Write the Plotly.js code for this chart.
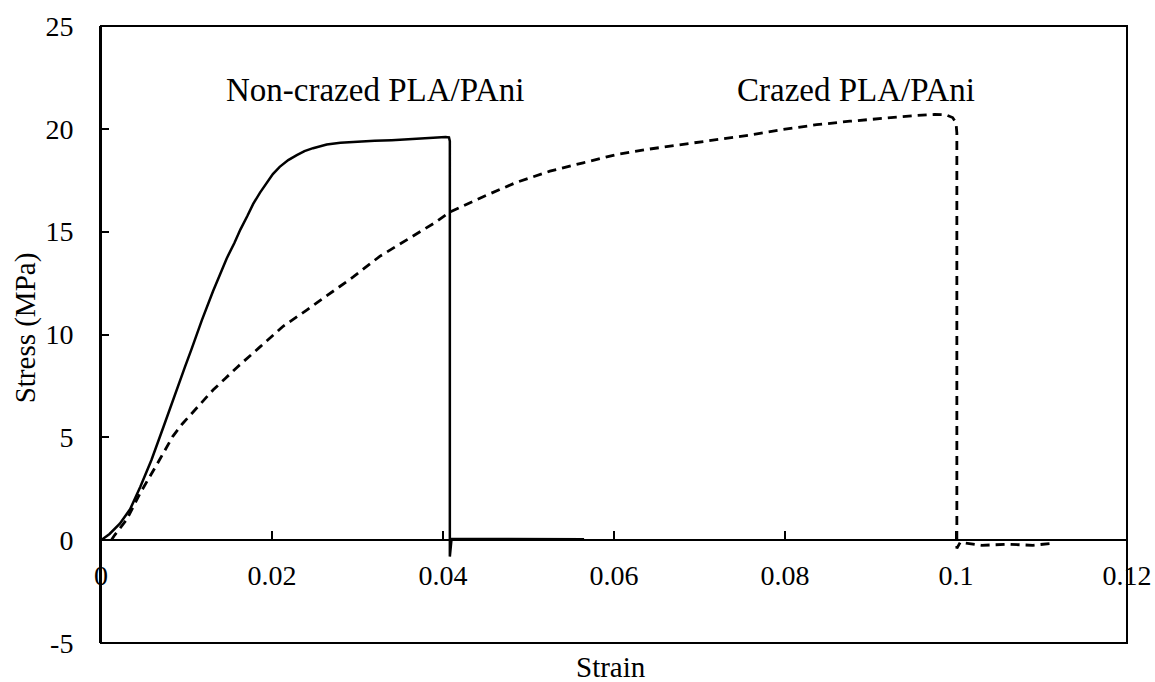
<!DOCTYPE html>
<html>
<head>
<meta charset="utf-8">
<script src="https://cdn.plot.ly/plotly-3.0.1.min.js"></script>
<style>html,body{margin:0;padding:0;background:#fff;}#chart{width:1155px;height:682px;}</style>
</head>
<body>
<div id="chart"></div>
<script>
// Non-crazed PLA/PAni (solid)
const nonCrazedStrain = [0, 0.001, 0.0022, 0.0034, 0.0046, 0.0059, 0.0073, 0.0089, 0.0098, 0.0106, 0.0118, 0.0131, 0.0139, 0.0147, 0.0156, 0.0163, 0.0171, 0.0178, 0.0186, 0.0194, 0.0201, 0.0209, 0.0219, 0.0229, 0.0238, 0.0248, 0.0256, 0.0264, 0.028, 0.030, 0.032, 0.034, 0.036, 0.038, 0.0403, 0.0407, 0.0408, 0.0408, 0.0410, 0.045, 0.050, 0.0565];
const nonCrazedStress = [0, 0.3, 0.8, 1.5, 2.6, 3.9, 5.5, 7.4, 8.4, 9.3, 10.7, 12.1, 12.95, 13.7, 14.45, 15.1, 15.75, 16.35, 16.9, 17.4, 17.8, 18.15, 18.48, 18.72, 18.92, 19.06, 19.16, 19.24, 19.32, 19.38, 19.42, 19.45, 19.5, 19.55, 19.6, 19.58, 19.4, -0.8, 0.06, 0.06, 0.05, 0.05];

// Crazed PLA/PAni (dashed)
const crazedStrain = [0.0012, 0.0016, 0.003, 0.0046, 0.0067, 0.0076, 0.0084, 0.0095, 0.0108, 0.012, 0.0131, 0.0145, 0.0159, 0.0186, 0.0213, 0.0241, 0.0268, 0.0295, 0.0326, 0.0358, 0.0389, 0.0408, 0.0447, 0.0486, 0.0525, 0.0564, 0.0603, 0.0642, 0.0681, 0.072, 0.0759, 0.0798, 0.0837, 0.0876, 0.0915, 0.0954, 0.0975, 0.0988, 0.0996, 0.1000, 0.1001, 0.1001, 0.1005, 0.103, 0.106, 0.109, 0.1113];
const crazedStress = [0, 0.25, 1.0, 2.3, 3.8, 4.5, 5.05, 5.65, 6.25, 6.8, 7.3, 7.85, 8.4, 9.4, 10.4, 11.2, 12.0, 12.8, 13.8, 14.6, 15.4, 15.95, 16.7, 17.4, 17.94, 18.35, 18.75, 19.02, 19.25, 19.45, 19.7, 19.97, 20.2, 20.37, 20.52, 20.65, 20.7, 20.68, 20.55, 20.3, 19.8, -0.4, -0.1, -0.25, -0.2, -0.25, -0.15];

const xTickVals = [0, 0.02, 0.04, 0.06, 0.08, 0.1, 0.12];
const xTickText = ["0", "0.02", "0.04", "0.06", "0.08", "0.1", "0.12"];
const yTickVals = [-5, 0, 5, 10, 15, 20, 25];
const yTickText = ["-5", "0", "5", "10", "15", "20", "25"];

const labelNonCrazed = "Non-crazed PLA/PAni";
const labelCrazed = "Crazed PLA/PAni";
const xTitle = "Strain";
const yTitle = "Stress (MPa)";

const FONT = "'Liberation Serif', 'Times New Roman', Times, serif";

const traces = [
  {x: nonCrazedStrain, y: nonCrazedStress, mode: "lines", name: labelNonCrazed,
   line: {color: "#000", width: 2.5}},
  {x: crazedStrain, y: crazedStress, mode: "lines", name: labelCrazed,
   line: {color: "#000", width: 2.8, dash: "9px,6px"}}
];

const layout = {
  width: 1155, height: 682,
  margin: {l: 101, r: 28, t: 26, b: 39},
  paper_bgcolor: "#fff", plot_bgcolor: "#fff",
  showlegend: false,
  font: {family: FONT, size: 28, color: "#000"},
  xaxis: {
    range: [0, 0.12], tickvals: xTickVals, ticktext: xTickText,
    anchor: "free", position: 5/30,
    showline: true, linecolor: "#000", linewidth: 2,
    ticks: "inside", ticklen: 8, tickwidth: 2, tickcolor: "#000",
    showgrid: false, zeroline: false,
    ticklabelstandoff: 10,
    tickfont: {family: FONT, size: 28, color: "#000"}
  },
  yaxis: {
    range: [-5, 25], tickvals: yTickVals, ticktext: yTickText,
    showline: true, linecolor: "#000", linewidth: 2,
    ticks: "inside", ticklen: 8, tickwidth: 2, tickcolor: "#000",
    showgrid: false, zeroline: false,
    ticklabelstandoff: 20,
    tickfont: {family: FONT, size: 28, color: "#000"}
  },
  shapes: [
    {type: "rect", xref: "paper", yref: "paper", x0: 0, x1: 1, y0: 0, y1: 1,
     line: {color: "#000", width: 2}, fillcolor: "rgba(0,0,0,0)"}
  ],
  annotations: [
    {text: labelNonCrazed, xref: "x", yref: "y", x: 0.0321, y: 21.9, showarrow: false,
     xanchor: "center", yanchor: "middle", font: {family: FONT, size: 33, color: "#000"}},
    {text: labelCrazed, xref: "x", yref: "y", x: 0.0883, y: 21.9, showarrow: false,
     xanchor: "center", yanchor: "middle", font: {family: FONT, size: 33, color: "#000"}},
    {text: xTitle, xref: "paper", yref: "paper", x: 0.497, y: 0, yshift: -24, showarrow: false,
     xanchor: "center", yanchor: "middle", font: {family: FONT, size: 29, color: "#000"}},
    {text: yTitle, xref: "paper", yref: "paper", x: 0, xshift: -76, y: 0.51, showarrow: false,
     textangle: -90, xanchor: "center", yanchor: "middle", font: {family: FONT, size: 29, color: "#000"}}
  ]
};

Plotly.newPlot("chart", traces, layout, {displayModeBar: false, staticPlot: true});
</script>
</body>
</html>
